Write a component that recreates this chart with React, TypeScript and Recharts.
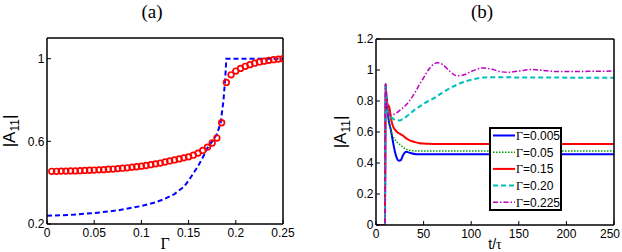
import React from 'react';
import { ComposedChart, LineChart, Line, Scatter, XAxis, YAxis, Legend, Label } from 'recharts';

// ---------- Panel (a) data ----------
const gammaRed = [
  0.005, 0.01, 0.015, 0.02, 0.025, 0.03, 0.035, 0.04, 0.045, 0.05,
  0.055, 0.06, 0.065, 0.07, 0.075, 0.08, 0.085, 0.09, 0.095, 0.1,
  0.105, 0.11, 0.115, 0.12, 0.125, 0.13, 0.135, 0.14, 0.145, 0.15,
  0.155, 0.16, 0.165, 0.17, 0.175, 0.18, 0.185, 0.19, 0.195, 0.2,
  0.205, 0.21, 0.215, 0.22, 0.225, 0.23, 0.235, 0.24, 0.245, 0.25,
];
const a11Red = [
  0.455, 0.455, 0.456, 0.456, 0.457, 0.457, 0.458, 0.459, 0.46, 0.461,
  0.462, 0.463, 0.465, 0.466, 0.468, 0.47, 0.472, 0.475, 0.477, 0.48,
  0.483, 0.487, 0.491, 0.495, 0.5, 0.505, 0.51, 0.515, 0.52, 0.525,
  0.533, 0.543, 0.556, 0.572, 0.592, 0.616, 0.69, 0.885, 0.922, 0.94,
  0.953, 0.963, 0.971, 0.978, 0.984, 0.988, 0.992, 0.995, 0.998, 1.0,
];
const gammaBlue = [
  0, 0.025, 0.05, 0.075, 0.1, 0.115, 0.125, 0.135, 0.145, 0.15, 0.155,
  0.16, 0.165, 0.17, 0.175, 0.18, 0.184, 0.187, 0.189, 0.19, 0.25,
];
const a11Blue = [
  0.24, 0.244, 0.253, 0.266, 0.287, 0.305, 0.322, 0.345, 0.38, 0.41, 0.445,
  0.48, 0.522, 0.568, 0.6, 0.635, 0.69, 0.8, 0.92, 1.0, 1.0,
];
const aXTicks = [0, 0.05, 0.1, 0.15, 0.2, 0.25];
const aYTicks = [0.2, 0.6, 1];

// ---------- Panel (b) data ----------
const tGrid = [
  0, 9.5, 10, 11, 12, 13, 14, 15, 16, 18, 20, 22, 24, 26, 28, 30, 32, 35, 38, 42,
  46, 50, 55, 60, 64, 70, 77, 85, 92, 100, 106, 112, 120, 130, 138, 150, 163, 175,
  190, 210, 230, 250,
];
const gam0005 = [
  0, 0, 0.91, 0.82, 0.76, 0.69, 0.655, 0.63, 0.6, 0.53, 0.47, 0.43, 0.414, 0.418, 0.445, 0.465, 0.472, 0.467, 0.461, 0.457,
  0.456, 0.456, 0.456, 0.456, 0.456, 0.456, 0.456, 0.456, 0.456, 0.456, 0.456, 0.456, 0.456, 0.456, 0.456, 0.456, 0.456, 0.456,
  0.456, 0.456, 0.456, 0.456,
];
const gam005 = [
  0, 0, 0.91, 0.82, 0.76, 0.7, 0.66, 0.63, 0.6, 0.57, 0.55, 0.535, 0.525, 0.515, 0.505, 0.495, 0.488, 0.482, 0.479, 0.478,
  0.477, 0.477, 0.477, 0.477, 0.477, 0.477, 0.477, 0.477, 0.477, 0.477, 0.477, 0.477, 0.477, 0.477, 0.477, 0.477, 0.477, 0.477,
  0.477, 0.477, 0.477, 0.477,
];
const gam015 = [
  0, 0, 0.91, 0.82, 0.78, 0.77, 0.76, 0.72, 0.68, 0.635, 0.615, 0.6, 0.592, 0.585, 0.578, 0.568, 0.558, 0.548, 0.54, 0.533,
  0.528, 0.526, 0.524, 0.523, 0.523, 0.523, 0.523, 0.523, 0.523, 0.523, 0.523, 0.523, 0.523, 0.523, 0.523, 0.523, 0.523, 0.523,
  0.523, 0.523, 0.523, 0.523,
];
const gam020 = [
  0, 0, 0.91, 0.8, 0.74, 0.72, 0.71, 0.7, 0.695, 0.685, 0.68, 0.677, 0.675, 0.676, 0.683, 0.69, 0.7, 0.715, 0.73, 0.75,
  0.765, 0.782, 0.8, 0.815, 0.83, 0.855, 0.88, 0.905, 0.923, 0.937, 0.945, 0.951, 0.954, 0.953, 0.953, 0.952, 0.952, 0.951,
  0.951, 0.95, 0.95, 0.95,
];
const gam0225 = [
  0, 0, 0.91, 0.8, 0.74, 0.72, 0.712, 0.71, 0.71, 0.712, 0.718, 0.725, 0.735, 0.745, 0.755, 0.765, 0.778, 0.8, 0.825, 0.865,
  0.91, 0.95, 1.0, 1.035, 1.047, 1.035, 0.995, 0.963, 0.968, 0.99, 1.005, 1.013, 1.008, 0.99, 0.985, 0.993, 1.003, 0.998,
  0.99, 0.99, 0.992, 0.993,
];
const legendLabels = ['0.005', '0.05', '0.15', '0.20', '0.225'];
const bXTicks = [0, 50, 100, 150, 200, 250];
const bYTicks = [0, 0.2, 0.4, 0.6, 0.8, 1, 1.2];

// ---------- built tables ----------
const redPoints = gammaRed.map((g, i) => ({ x: g, y: a11Red[i] }));
const bluePoints = gammaBlue.map((g, i) => ({ x: g, y: a11Blue[i] }));
const seriesB = [gam0005, gam005, gam015, gam020, gam0225];
const rowsB = tGrid.map((t, i) => {
  const row: Record<string, number> = { t };
  seriesB.forEach((s, k) => {
    row['s' + k] = s[i];
  });
  return row;
});

const seriesStyles = [
  { color: '#0000ff', width: 2, dash: undefined as string | undefined },
  { color: '#00a000', width: 1.5, dash: '1.5 1.5' },
  { color: '#ff0000', width: 2, dash: undefined },
  { color: '#00bfbf', width: 2, dash: '5 3' },
  { color: '#bf00bf', width: 1.5, dash: '5 2 1.5 2' },
];

const SANS = '"Liberation Sans", Arial, Helvetica, sans-serif';
const SERIF = '"Liberation Serif", "Times New Roman", serif';
const tickStyle = { fontSize: 12, fill: '#000', fontFamily: SANS };
const axisLine = { stroke: '#000', strokeWidth: 1.5 };
const tickLine = { stroke: '#000', strokeWidth: 1 };

// bottom tick labels kept inside the chart's right edge
const makeBottomTick = (maxX: number) => (props: any) => {
  const { x, y, payload } = props;
  const cx = Math.min(x, maxX);
  return (
    <text x={cx} y={y} dy="0.71em" textAnchor="middle" fontSize={12} fontFamily={SANS} fill="#000">
      {String(payload.value)}
    </text>
  );
};

const yLabel = (bx: number, cy: number) => () => (
  <text
    x={bx}
    y={cy}
    transform={`rotate(-90 ${bx} ${cy})`}
    textAnchor="middle"
    fontFamily={SANS}
    fontSize={17}
    fill="#000"
  >
    |A<tspan fontSize={12} dy={4}>11</tspan>
    <tspan dy={-4}>|</tspan>
  </text>
);

const textAt = (x: number, y: number, content: React.ReactNode, size: number, family: string) => () => (
  <text x={x} y={y} textAnchor="middle" fontFamily={family} fontSize={size} fill="#000">
    {content}
  </text>
);

const RedCircle = (props: any) => {
  const { cx, cy } = props;
  if (cx == null || cy == null) return null;
  return <circle cx={cx} cy={cy} r={2.8} fill="none" stroke="#ff0000" strokeWidth={1.7} />;
};

const renderLegend = (props: any) => {
  const payload = props.payload || [];
  return (
    <svg width={73} height={84} style={{ display: 'block' }}>
      <rect x={1} y={1} width={71} height={82} fill="#fff" stroke="#000" strokeWidth={2} />
      {payload.map((e: any, i: number) => {
        const y = 8.5 + i * 16.7;
        const st = seriesStyles[i];
        return (
          <g key={i}>
            <line x1={4} x2={26} y1={y} y2={y} stroke={e.color} strokeWidth={st.width} strokeDasharray={st.dash} />
            <text x={27} y={y + 4.3} fontSize={12} fontFamily={SANS} fill="#000">
              <tspan fontFamily={SERIF}>Γ</tspan>={e.value}
            </text>
          </g>
        );
      })}
    </svg>
  );
};

function PanelA() {
  return (
    <ComposedChart width={311} height={252} margin={{ top: 37, right: 27, bottom: 0, left: 0 }}>
      <XAxis
        xAxisId="b"
        dataKey="x"
        type="number"
        domain={[0, 0.25]}
        ticks={aXTicks}
        interval={0}
        allowDataOverflow
        height={28}
        tick={makeBottomTick(298)}
        tickSize={-4}
        tickMargin={8}
        axisLine={axisLine}
        tickLine={tickLine}
      >
        <Label content={textAt(165, 249, 'Γ', 16, SERIF)} />
      </XAxis>
      <XAxis
        xAxisId="t"
        orientation="top"
        dataKey="x"
        type="number"
        domain={[0, 0.25]}
        ticks={aXTicks}
        interval={0}
        allowDataOverflow
        height={1}
        tick={false}
        tickSize={-4}
        axisLine={axisLine}
        tickLine={tickLine}
      >
        <Label content={textAt(152, 18, '(a)', 19, SERIF)} />
      </XAxis>
      <YAxis
        yAxisId="l"
        type="number"
        domain={[0.2, 1.1]}
        ticks={aYTicks}
        interval={0}
        allowDataOverflow
        width={47}
        tick={tickStyle}
        tickSize={-4}
        tickMargin={6.5}
        axisLine={axisLine}
        tickLine={tickLine}
      >
        <Label content={yLabel(15, 131)} />
      </YAxis>
      <YAxis
        yAxisId="r"
        orientation="right"
        type="number"
        domain={[0.2, 1.1]}
        ticks={aYTicks}
        interval={0}
        allowDataOverflow
        width={1}
        tick={false}
        tickSize={-4}
        axisLine={axisLine}
        tickLine={tickLine}
      />
      <Line
        xAxisId="b"
        yAxisId="l"
        data={bluePoints}
        dataKey="y"
        type="linear"
        stroke="#0000ff"
        strokeWidth={2}
        strokeDasharray="5 3"
        dot={false}
        isAnimationActive={false}
      />
      <Scatter
        xAxisId="b"
        yAxisId="l"
        data={redPoints}
        dataKey="y"
        shape={RedCircle}
        isAnimationActive={false}
      />
    </ComposedChart>
  );
}

function PanelB() {
  return (
    <LineChart width={311} height={252} data={rowsB} margin={{ top: 38, right: 7, bottom: 0, left: 0 }}>
      <XAxis
        xAxisId="b"
        dataKey="t"
        type="number"
        domain={[0, 250]}
        ticks={bXTicks}
        interval={0}
        allowDataOverflow
        height={27}
        tick={makeBottomTick(299)}
        tickSize={-4}
        tickMargin={8}
        axisLine={axisLine}
        tickLine={tickLine}
      >
        <Label
          content={textAt(
            184,
            248.5,
            <>
              t/<tspan fontFamily={SERIF}>τ</tspan>
            </>,
            14,
            SANS
          )}
        />
      </XAxis>
      <XAxis
        xAxisId="t"
        orientation="top"
        dataKey="t"
        type="number"
        domain={[0, 250]}
        ticks={bXTicks}
        interval={0}
        allowDataOverflow
        height={1}
        tick={false}
        tickSize={-4}
        axisLine={axisLine}
        tickLine={tickLine}
      >
        <Label content={textAt(171, 18, '(b)', 19, SERIF)} />
      </XAxis>
      <YAxis
        yAxisId="l"
        type="number"
        domain={[0, 1.2]}
        ticks={bYTicks}
        interval={0}
        allowDataOverflow
        width={65}
        tick={tickStyle}
        tickSize={-4}
        tickMargin={6.5}
        axisLine={axisLine}
        tickLine={tickLine}
      >
        <Label content={yLabel(35, 132)} />
      </YAxis>
      <YAxis
        yAxisId="r"
        orientation="right"
        type="number"
        domain={[0, 1.2]}
        ticks={bYTicks}
        interval={0}
        allowDataOverflow
        width={1}
        tick={false}
        tickSize={-4}
        axisLine={axisLine}
        tickLine={tickLine}
      />
      {seriesStyles.map((st, k) => (
        <Line
          key={k}
          xAxisId="b"
          yAxisId="l"
          dataKey={'s' + k}
          name={legendLabels[k]}
          type="monotone"
          stroke={st.color}
          strokeWidth={st.width}
          strokeDasharray={st.dash}
          dot={false}
          isAnimationActive={false}
        />
      ))}
      <Legend
        layout="vertical"
        align="center"
        verticalAlign="middle"
        content={renderLegend}
        wrapperStyle={{ left: 178, top: 127, width: 73, height: 84 }}
      />
    </LineChart>
  );
}

export default function App() {
  return (
    <div style={{ position: 'absolute', left: 0, top: 0, width: 622, height: 252, background: '#fff' }}>
      <div style={{ position: 'absolute', left: 0, top: 0 }}>
        <PanelA />
      </div>
      <div style={{ position: 'absolute', left: 311, top: 0 }}>
        <PanelB />
      </div>
    </div>
  );
}
